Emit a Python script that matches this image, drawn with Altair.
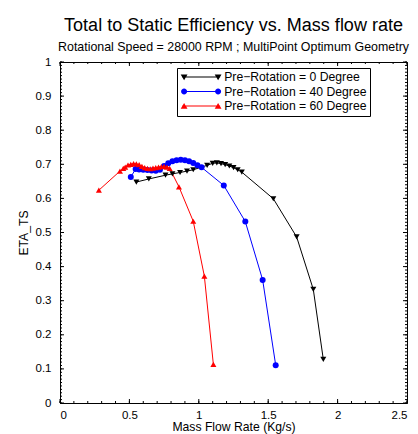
import altair as alt
import pandas as pd

FONT = "Liberation Sans"

series_names = ["Pre\u2212Rotation = 0 Degree", "Pre\u2212Rotation = 40 Degree", "Pre\u2212Rotation = 60 Degree"]
series_colors = ["#000000", "#0000ff", "#ff0000"]
series_shapes = ["triangle-down", "circle", "triangle-up"]

# Pre-Rotation = 0 Degree
x0 = [0.55, 0.64, 0.76, 0.81, 0.865, 0.915, 0.96, 1.06, 1.10, 1.13, 1.16, 1.19, 1.22, 1.25, 1.28, 1.31,
      1.537, 1.705, 1.825, 1.897]
y0 = [0.648, 0.657, 0.668, 0.672, 0.676, 0.680, 0.684, 0.697, 0.703, 0.704, 0.702, 0.699, 0.695, 0.690,
      0.684, 0.677, 0.599, 0.487, 0.333, 0.128]

# Pre-Rotation = 40 Degree
x40 = [0.51, 0.545, 0.57, 0.60, 0.63, 0.66, 0.69, 0.72, 0.75, 0.78, 0.81, 0.84, 0.87, 0.90, 0.93, 0.96,
       0.99, 1.02, 1.18, 1.335, 1.46, 1.554]
y40 = [0.663, 0.686, 0.685, 0.684, 0.683, 0.682, 0.681, 0.684, 0.695, 0.703, 0.709, 0.712, 0.713, 0.712,
       0.709, 0.704, 0.697, 0.691, 0.638, 0.532, 0.361, 0.111]

# Pre-Rotation = 60 Degree
x60 = [0.28, 0.432, 0.456, 0.47, 0.49, 0.51, 0.53, 0.55, 0.57, 0.59, 0.61, 0.63, 0.65, 0.67, 0.69, 0.71,
       0.73, 0.75, 0.77, 0.79, 0.857, 0.96, 1.04, 1.105]
y60 = [0.624, 0.680, 0.688, 0.692, 0.698, 0.700, 0.702, 0.701, 0.699, 0.694, 0.690, 0.688, 0.687, 0.689,
       0.690, 0.692, 0.693, 0.694, 0.692, 0.688, 0.634, 0.533, 0.372, 0.113]

x_ticks = [0, 0.5, 1, 1.5, 2, 2.5]
y_ticks = [0, 0.1, 0.2, 0.3, 0.4, 0.5, 0.6, 0.7, 0.8, 0.9, 1]
x_minor = [round(i * 0.1, 2) for i in range(26)]
y_minor = [round(i * 0.01, 2) for i in range(101)]

rows = []
for name, xs_, ys_ in zip(series_names, [x0, x40, x60], [y0, y40, y60]):
    for i, (xv, yv) in enumerate(zip(xs_, ys_)):
        rows.append({"series": name, "idx": i, "m": xv, "eta": yv})
df = pd.DataFrame(rows)

W, H = 347, 341

xs = alt.Scale(domain=[0, 2.5], nice=False, zero=False)
ys = alt.Scale(domain=[0, 1], nice=False, zero=False)

x_axis = alt.Axis(values=x_ticks, format="~g", ticks=False, grid=False, labelPadding=6,
                  title="Mass Flow Rate (Kg/s)", titlePadding=0)
y_axis = alt.Axis(values=y_ticks, format="~g", ticks=False, grid=False, labelPadding=9,
                  title="ETA_TS", titlePadding=5)

color_scale = alt.Scale(domain=series_names, range=series_colors)

# legend symbols (symbolSize 100 -> 5 px per path unit): a line with a marker at each end.
S = 5.0
def tri_down(cx):
    a, h = 3.4 / S, 3.2 / S
    return f"M{cx-a:.3f},{-h*0.8:.3f}L{cx+a:.3f},{-h*0.8:.3f}L{cx:.3f},{h:.3f}Z"

def tri_up(cx):
    a, h = 3.4 / S, 3.2 / S
    return f"M{cx+a:.3f},{h*0.8:.3f}L{cx-a:.3f},{h*0.8:.3f}L{cx:.3f},{-h:.3f}Z"

def circ(cx):
    r = 3.0 / S
    return f"M{cx+r:.3f},0A{r:.3f},{r:.3f},0,1,1,{cx-r:.3f},0A{r:.3f},{r:.3f},0,1,1,{cx+r:.3f},0Z"

lw = 0.5 / S
line_path = f"M-0.8,{-lw:.3f}H6.8V{lw:.3f}H-0.8Z"
c1, c2 = -0.4, 6.4
legend_paths = [
    line_path + tri_down(c1) + tri_down(c2),
    line_path + circ(c1) + circ(c2),
    line_path + tri_up(c1) + tri_up(c2),
]

base = alt.Chart(df)

lines = base.mark_line(strokeWidth=1).encode(
    x=alt.X("m:Q", scale=xs, axis=x_axis),
    y=alt.Y("eta:Q", scale=ys, axis=y_axis),
    color=alt.Color("series:N", scale=color_scale, legend=None),
    order="idx:Q",
)

points = base.mark_point(filled=True, opacity=1, size=36).encode(
    x=alt.X("m:Q", scale=xs, axis=x_axis),
    y=alt.Y("eta:Q", scale=ys, axis=y_axis),
    color=alt.Color("series:N", scale=color_scale, legend=None),
    shape=alt.Shape("series:N", scale=alt.Scale(domain=series_names, range=series_shapes), legend=None),
)

legend_layer = base.mark_point(filled=True, opacity=1).encode(
    x=alt.X("m:Q", scale=xs, axis=x_axis),
    y=alt.Y("eta:Q", scale=ys, axis=y_axis),
    size=alt.value(0),
    color=alt.Color("series:N", scale=color_scale,
                    legend=alt.Legend(title=None, orient="none", legendX=117, legendY=6)),
    shape=alt.Shape("series:N", scale=alt.Scale(domain=series_names, range=legend_paths),
                    legend=alt.Legend(title=None, orient="none", legendX=117, legendY=6)),
)

# inward tick marks on all four sides
xmaj = alt.Chart(pd.DataFrame({"v": x_ticks}))
xmin = alt.Chart(pd.DataFrame({"v": x_minor}))
ymaj = alt.Chart(pd.DataFrame({"v": y_ticks}))
ymin = alt.Chart(pd.DataFrame({"v": y_minor}))

def xt(ch, length):
    b = ch.mark_rule(color="black", strokeWidth=1).encode(
        x=alt.X("v:Q", scale=xs, axis=x_axis), y=alt.value(H), y2=alt.value(H - length))
    t = ch.mark_rule(color="black", strokeWidth=1).encode(
        x=alt.X("v:Q", scale=xs, axis=x_axis), y=alt.value(0), y2=alt.value(length))
    return [b, t]

def yt(ch, length):
    l = ch.mark_rule(color="black", strokeWidth=1).encode(
        y=alt.Y("v:Q", scale=ys, axis=y_axis), x=alt.value(0), x2=alt.value(length))
    r = ch.mark_rule(color="black", strokeWidth=1).encode(
        y=alt.Y("v:Q", scale=ys, axis=y_axis), x=alt.value(W), x2=alt.value(W - length))
    return [l, r]

tick_layers = xt(xmaj, 4) + xt(xmin, 2) + yt(ymaj, 4) + yt(ymin, 2)

chart = alt.layer(
    lines, points, legend_layer, *tick_layers
).resolve_scale(
    color="independent", shape="independent"
).properties(
    width=W,
    height=H,
    autosize=alt.AutoSizeParams(type="none"),
    padding={"left": 52, "top": 54, "right": 3, "bottom": 33},
    title=alt.TitleParams(
        text="Total to Static Efficiency vs. Mass flow rate",
        subtitle="Rotational Speed = 28000 RPM ; MultiPoint Optimum Geometry",
        font=FONT, subtitleFont=FONT, fontSize=18, subtitleFontSize=12.4,
        fontWeight="normal", color="black", subtitleColor="black",
        anchor="middle", offset=3, subtitlePadding=6,
    ),
).configure_view(
    stroke="black", strokeWidth=1
).configure_axis(
    domainColor="black", domainWidth=1,
    labelFont=FONT, labelFontSize=11.5, labelColor="black",
    titleFont=FONT, titleFontSize=12.2, titleColor="black", titleFontWeight="normal",
).configure_legend(
    labelFont=FONT, labelFontSize=12.2, labelColor="black",
    symbolSize=100, labelOffset=32, rowPadding=1.5, padding=3,
    strokeColor="black", fillColor="white", symbolStrokeWidth=0,
)

chart.save("out.html", embed_options={"renderer": "svg", "actions": False})
